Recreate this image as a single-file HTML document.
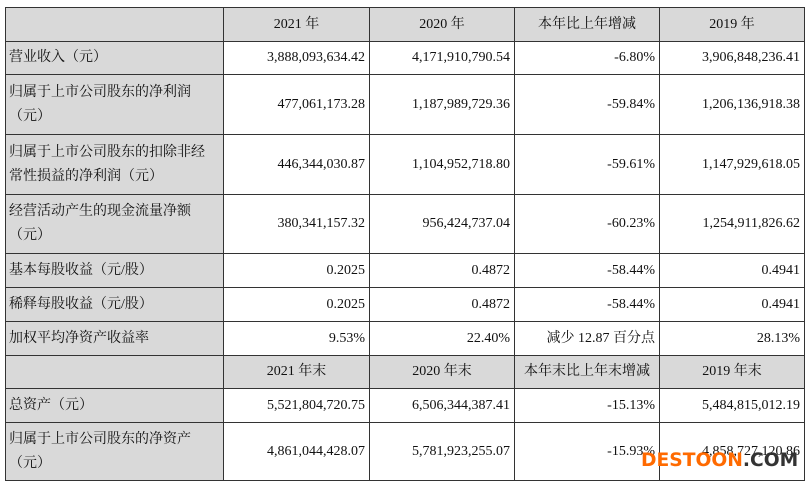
<!DOCTYPE html>
<html><head><meta charset="utf-8"><style>
body{margin:0;background:#fff;width:811px;height:484px;overflow:hidden;position:relative}
table{position:absolute;left:5px;top:7px;border-collapse:collapse;font-family:"Liberation Serif","Noto Serif CJK SC",serif;font-size:14px;color:#111}
td{border:1.5px solid #333;padding:0 4px;line-height:24px}
td.l{background:#d9d9d9;text-align:left;padding-left:3px}
td.n{text-align:right}
tr.h td{background:#d9d9d9;text-align:center}
.wm{position:absolute;left:641px;top:449px;font-family:"DejaVu Sans",sans-serif;font-weight:bold;font-size:18.7px;line-height:24px;white-space:nowrap}
</style></head><body>
<table>
<colgroup><col style="width:218px"><col style="width:146px"><col style="width:145px"><col style="width:145px"><col style="width:145px"></colgroup>
<tr class="h" style="height:34px"><td></td><td>2021 年</td><td>2020 年</td><td>本年比上年增减</td><td>2019 年</td></tr>
<tr style="height:33px"><td class="l">营业收入（元）</td><td class="n">3,888,093,634.42</td><td class="n">4,171,910,790.54</td><td class="n">-6.80%</td><td class="n">3,906,848,236.41</td></tr>
<tr style="height:60px"><td class="l">归属于上市公司股东的净利润<br>（元）</td><td class="n">477,061,173.28</td><td class="n">1,187,989,729.36</td><td class="n">-59.84%</td><td class="n">1,206,136,918.38</td></tr>
<tr style="height:60px"><td class="l">归属于上市公司股东的扣除非经<br>常性损益的净利润（元）</td><td class="n">446,344,030.87</td><td class="n">1,104,952,718.80</td><td class="n">-59.61%</td><td class="n">1,147,929,618.05</td></tr>
<tr style="height:59px"><td class="l">经营活动产生的现金流量净额<br>（元）</td><td class="n">380,341,157.32</td><td class="n">956,424,737.04</td><td class="n">-60.23%</td><td class="n">1,254,911,826.62</td></tr>
<tr style="height:34px"><td class="l">基本每股收益（元/股）</td><td class="n">0.2025</td><td class="n">0.4872</td><td class="n">-58.44%</td><td class="n">0.4941</td></tr>
<tr style="height:34px"><td class="l">稀释每股收益（元/股）</td><td class="n">0.2025</td><td class="n">0.4872</td><td class="n">-58.44%</td><td class="n">0.4941</td></tr>
<tr style="height:34px"><td class="l">加权平均净资产收益率</td><td class="n">9.53%</td><td class="n">22.40%</td><td class="n">减少 12.87 百分点</td><td class="n">28.13%</td></tr>
<tr class="h" style="height:33px"><td></td><td>2021 年末</td><td>2020 年末</td><td>本年末比上年末增减</td><td>2019 年末</td></tr>
<tr style="height:34px"><td class="l">总资产（元）</td><td class="n">5,521,804,720.75</td><td class="n">6,506,344,387.41</td><td class="n">-15.13%</td><td class="n">5,484,815,012.19</td></tr>
<tr style="height:58px"><td class="l">归属于上市公司股东的净资产<br>（元）</td><td class="n">4,861,044,428.07</td><td class="n">5,781,923,255.07</td><td class="n">-15.93%</td><td class="n">4,858,727,120.86</td></tr>
</table>
<div class="wm"><span style="color:#ff6a00">DESTOON</span><span style="color:#333">.COM</span></div>
</body></html>
